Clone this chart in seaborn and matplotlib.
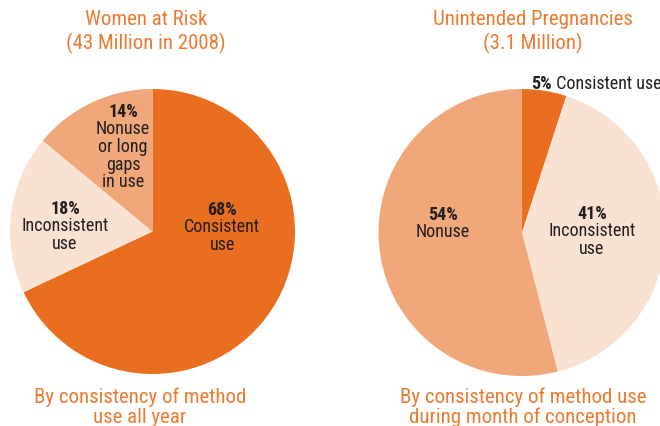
import matplotlib
matplotlib.use("Agg")
import matplotlib.pyplot as plt
import seaborn as sns

# --- Data ---
left_title = "Women at Risk\n(43 Million in 2008)"
left_caption = "By consistency of method\nuse all year"
left_pcts = [68, 18, 14]
left_labels = ["Consistent\nuse", "Inconsistent\nuse", "Nonuse\nor long\ngaps\nin use"]

right_title = "Unintended Pregnancies\n(3.1 Million)"
right_caption = "By consistency of method use\nduring month of conception"
right_pcts = [5, 41, 54]
right_labels = ["Consistent use", "Inconsistent\nuse", "Nonuse"]

# --- Style ---
sns.set_theme(style="white")
plt.rcParams["font.family"] = ["Roboto Condensed", "Liberation Sans", "DejaVu Sans"]

DARK = "#E96E20"
MID = "#F0A77A"
LIGHT = "#FAE2D3"
ORANGE_TXT = "#EC7A30"
INK = "#231F20"
W, H = 660, 427
FS = 13
TFS = 15


def px_axes(fig, cx, cy, r):
    return fig.add_axes([(cx - r) / W, (H - cy - r) / H, 2 * r / W, 2 * r / H])


def draw_pie(ax, pcts, colors):
    ax.pie(pcts, colors=colors, startangle=90, counterclock=False,
           wedgeprops=dict(linewidth=0), radius=1)
    ax.set_xlim(-1, 1)
    ax.set_ylim(-1, 1)
    ax.axis("off")


def block(ax, x, y, pct, label):
    t = ax.text(x, y, f"{pct}%", ha="center", va="baseline", fontsize=FS,
                fontweight="bold", color=INK)
    ax.annotate(label, xy=(0.5, 0), xycoords=t, xytext=(0, 0.5),
                textcoords="offset points", ha="center", va="top",
                fontsize=FS, color=INK, linespacing=0.97)


fig = plt.figure(figsize=(W / 100, H / 100), dpi=100)

# left pie
axl = px_axes(fig, 152.5, 232.5, 142.5)
draw_pie(axl, left_pcts, [DARK, LIGHT, MID])
label_pos_l = [(0.49, 0.125), (-0.614, 0.13), (-0.207, 0.81)]
for (x, y), p, lab in zip(label_pos_l, left_pcts, left_labels):
    block(axl, x, y, p, lab)

# right pie
axr = px_axes(fig, 522, 233.5, 143.5)
draw_pie(axr, right_pcts, [DARK, LIGHT, MID])
t5 = axr.text(0.063, 1.005, f"{right_pcts[0]}%", ha="left", va="baseline",
              fontsize=FS, fontweight="bold", color=INK, clip_on=False)
axr.annotate(" " + right_labels[0], xy=(1, 0), xycoords=t5, ha="left", va="bottom",
             fontsize=FS, color=INK, annotation_clip=False)
block(axr, 0.488, 0.1, right_pcts[1], right_labels[1])
block(axr, -0.55, 0.095, right_pcts[2], right_labels[2])

# titles and captions
fig.text(146 / W, 1 - 32 / H, left_title, ha="center", va="center", fontsize=TFS,
         color=ORANGE_TXT, linespacing=1.2)
fig.text(533 / W, 1 - 32 / H, right_title, ha="center", va="center", fontsize=TFS,
         color=ORANGE_TXT, linespacing=1.2)
fig.text(140 / W, 1 - 407 / H, left_caption, ha="center", va="center", fontsize=TFS,
         color=ORANGE_TXT, linespacing=1.05)
fig.text(523 / W, 1 - 407 / H, right_caption, ha="center", va="center", fontsize=TFS,
         color=ORANGE_TXT, linespacing=1.05)

fig.savefig("out.png", dpi=100)
